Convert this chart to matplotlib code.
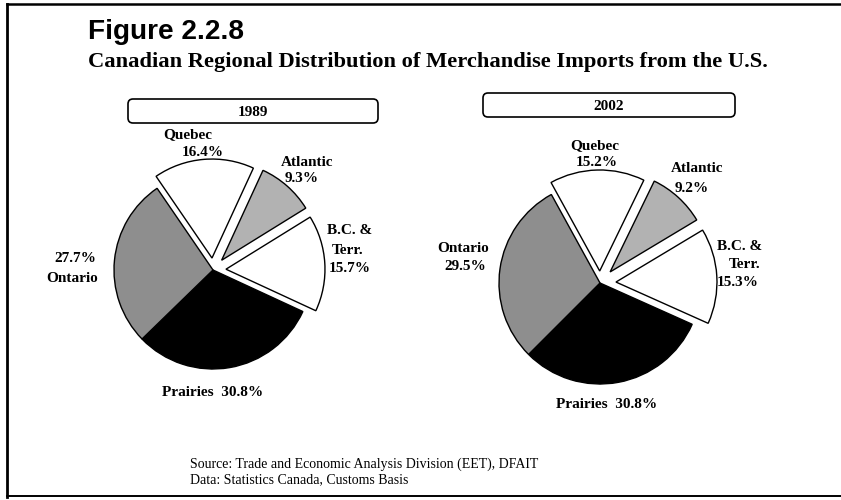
import matplotlib
matplotlib.use("Agg")
import matplotlib.pyplot as plt
from matplotlib.patches import FancyBboxPatch

# ---------------- data ----------------
regions = ["Prairies", "B.C. & Terr.", "Atlantic", "Quebec", "Ontario"]
shares_1989 = [30.8, 15.7, 9.3, 16.4, 27.7]
shares_2002 = [30.8, 15.3, 9.2, 15.2, 29.5]
years = ["1989", "2002"]

title = "Figure 2.2.8"
subtitle = "Canadian Regional Distribution of Merchandise Imports from the U.S."
source_lines = ["Source: Trade and Economic Analysis Division (EET), DFAIT",
                "Data: Statistics Canada, Customs Basis"]

# ---------------- styles ----------------
W, H = 841, 500
colors = ["#000000", "#ffffff", "#b2b2b2", "#ffffff", "#8e8e8e"]
SERIF = "Liberation Serif"
SANS = "Liberation Sans"

fig = plt.figure(figsize=(W / 100, H / 100), dpi=100)
fig.patch.set_facecolor("white")

ov = fig.add_axes([0, 0, 1, 1])
ov.set_xlim(0, W)
ov.set_ylim(H, 0)
ov.axis("off")
ov.set_zorder(5)
ov.patch.set_alpha(0)

# frame lines
ov.plot([7, 7], [4, 497], color="black", lw=2.0)
ov.plot([7, W], [4, 4], color="black", lw=1.8)
ov.plot([7, W], [496, 496], color="black", lw=1.4)

renderer = fig.canvas.get_renderer()


def fit_text(x, y, s, target_w, size, **kw):
    t = ov.text(x, y, s, fontsize=size, **kw)
    w = t.get_window_extent(renderer=renderer).width
    t.set_fontsize(size * target_w / w)
    return t


fit_text(88, 39, title, 156, 17, family=SANS, weight="bold", va="baseline", ha="left")
fit_text(88, 67, subtitle, 680, 15, family=SERIF, weight="bold", va="baseline", ha="left")

# year boxes
boxes = [(128, 99, 250, 24), (483, 93, 252, 24)]
for (bx, by, bw, bh), yr in zip(boxes, years):
    p = FancyBboxPatch((bx, by), bw, bh, boxstyle="round,pad=0,rounding_size=5",
                       fc="white", ec="black", lw=1.2)
    ov.add_patch(p)
    ov.text(bx + bw / 2, by + bh / 2 + 1, yr, family=SERIF, weight="bold",
            fontsize=11, ha="center", va="center")

# pies
pie_specs = [
    dict(shares=shares_1989, cx=213, cy=270, r=0.99, start=224.2, explode=[0, 0.13, 0.13, 0.12, 0]),
    dict(shares=shares_2002, cx=600, cy=283, r=1.01, start=225.0, explode=[0, 0.16, 0.15, 0.12, 0]),
]
for spec in pie_specs:
    ax = fig.add_axes([(spec["cx"] - 150) / W, (H - spec["cy"] - 150) / H, 300 / W, 300 / H])
    ax.pie(spec["shares"], colors=colors, startangle=spec["start"], counterclock=True,
           explode=spec["explode"], radius=spec["r"],
           wedgeprops=dict(edgecolor="black", linewidth=1.0))
    ax.set_xlim(-1.5, 1.5)
    ax.set_ylim(-1.5, 1.5)
    ax.axis("off")


def pct(v):
    return f"{v:.1f}%"


lab = dict(family=SERIF, weight="bold", fontsize=11, ha="center", va="center")
# 1989 labels
s = shares_1989
ov.text(188, 135, "Quebec", **lab)
ov.text(203, 152, pct(s[3]), **lab)
ov.text(307, 162, "Atlantic", **lab)
ov.text(302, 179, pct(s[2]), **lab)
ov.text(350, 230, "B.C. &", **lab)
ov.text(348, 250, "Terr.", **lab)
ov.text(350, 269, pct(s[1]), **lab)
ov.text(75, 258, pct(s[4]), **lab)
ov.text(72, 279, "Ontario", **lab)
ov.text(213, 392, "Prairies  " + pct(s[0]), **lab)

# 2002 labels
s = shares_2002
ov.text(595, 146, "Quebec", **lab)
ov.text(597, 163, pct(s[3]), **lab)
ov.text(697, 169, "Atlantic", **lab)
ov.text(692, 188, pct(s[2]), **lab)
ov.text(740, 247, "B.C. &", **lab)
ov.text(745, 265, "Terr.", **lab)
ov.text(738, 282, pct(s[1]), **lab)
ov.text(463, 248, "Ontario", **lab)
ov.text(465, 267, pct(s[4]), **lab)
ov.text(607, 405, "Prairies  " + pct(s[0]), **lab)

# source
fit_text(190, 464, source_lines[0], 348, 10, family=SERIF, ha="left", va="center")
ov.text(190, 480, source_lines[1], family=SERIF, fontsize=ov.texts[-1].get_fontsize(),
        ha="left", va="center")

fig.savefig("out.png", dpi=100, facecolor="white")
